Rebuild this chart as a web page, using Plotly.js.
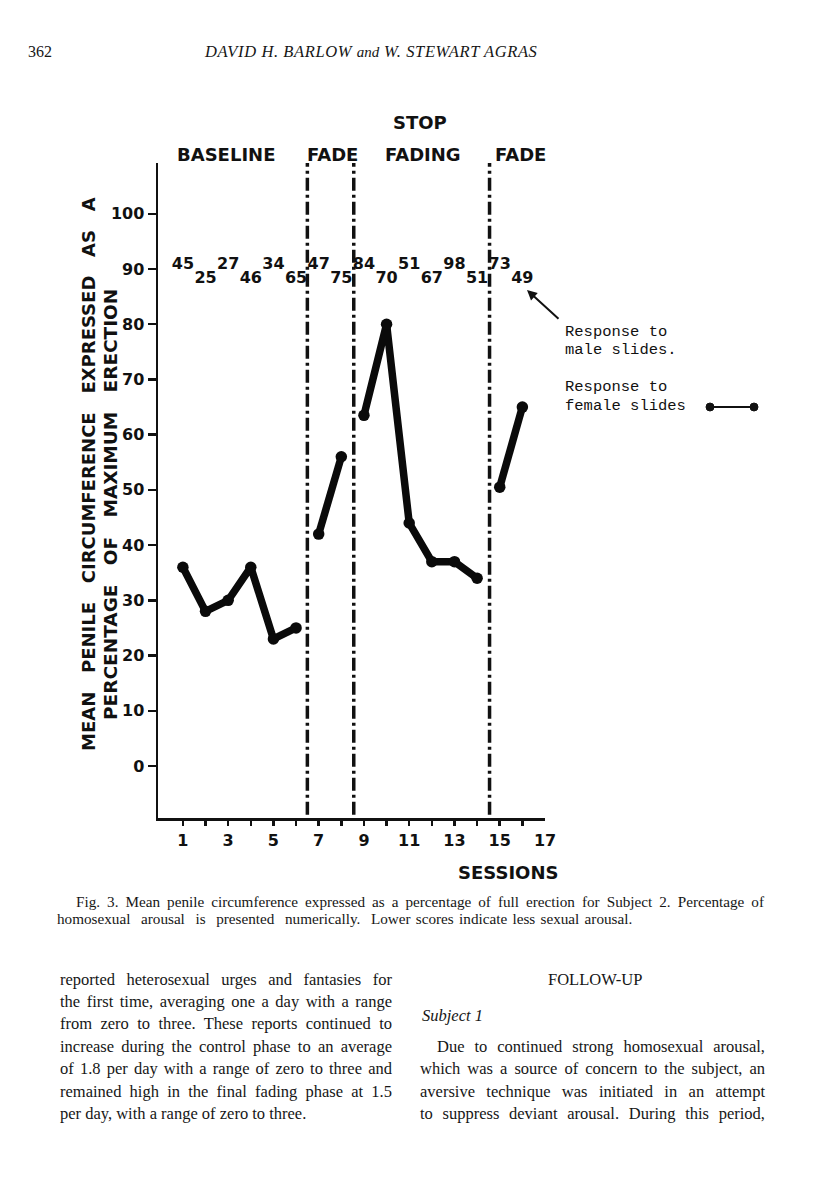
<!DOCTYPE html>
<html><head><meta charset="utf-8">
<script src="https://cdn.plot.ly/plotly-3.0.1.min.js"></script>
<style>
body{margin:0;background:#fff;}
#wrap{position:relative;width:816px;height:1195px;overflow:hidden;background:#fff;}
#chart{position:absolute;left:0;top:0;width:816px;height:1195px;}
.t{position:absolute;font-family:"Liberation Serif","DejaVu Serif",serif;color:#161616;white-space:nowrap;line-height:20px;}
.j{position:absolute;font-family:"Liberation Serif","DejaVu Serif",serif;color:#161616;text-align:justify;text-align-last:justify;white-space:normal;line-height:20px;height:20px;overflow:visible;}
.b{font-size:16.5px;}
.c{font-size:15.2px;}
</style></head><body>
<div id="wrap">
<div id="chart"></div>
<div class="t" style="left:28px;top:42px;font-size:16px;">362</div>
<div class="t" style="left:205px;top:42px;font-size:16.5px;font-style:italic;letter-spacing:0.6px;">DAVID H. BARLOW <span style="font-size:15px;letter-spacing:0">and</span> W. STEWART AGRAS</div>

<div class="j c" style="left:76px;top:892px;width:688px;">Fig. 3. Mean penile circumference expressed as a percentage of full erection for Subject 2. Percentage of</div>
<div class="t c" style="left:57px;top:909px;word-spacing:1.5px;">homosexual&nbsp; arousal&nbsp; is&nbsp; presented&nbsp; numerically.&nbsp; Lower scores indicate less sexual arousal.</div>

<div class="j b" style="left:60px;top:970px;width:332px;">reported heterosexual urges and fantasies for</div>
<div class="j b" style="left:60px;top:992px;width:332px;">the first time, averaging one a day with a range</div>
<div class="j b" style="left:60px;top:1014px;width:332px;">from zero to three. These reports continued to</div>
<div class="j b" style="left:60px;top:1037px;width:332px;">increase during the control phase to an average</div>
<div class="j b" style="left:60px;top:1059px;width:332px;">of 1.8 per day with a range of zero to three and</div>
<div class="j b" style="left:60px;top:1082px;width:332px;">remained high in the final fading phase at 1.5</div>
<div class="t b" style="left:60px;top:1104px;">per day, with a range of zero to three.</div>

<div class="t b" style="left:548px;top:970px;">FOLLOW-UP</div>
<div class="t b" style="left:422px;top:1006px;font-style:italic;">Subject 1</div>
<div class="j b" style="left:437px;top:1037px;width:328px;">Due to continued strong homosexual arousal,</div>
<div class="j b" style="left:420px;top:1059px;width:345px;">which was a source of concern to the subject, an</div>
<div class="j b" style="left:420px;top:1082px;width:345px;">aversive technique was initiated in an attempt</div>
<div class="j b" style="left:420px;top:1104px;width:345px;">to suppress deviant arousal. During this period,</div>
</div>
<script>
// ---- data ----
const sessions = [1,2,3,4,5,6,7,8,9,10,11,12,13,14,15,16];
const femaleResponse = [36,28,30,36,23,25,42,56,63.5,80,44,37,37,34,50.5,65];
const maleResponse = [45,25,27,46,34,65,47,75,84,70,51,67,98,51,73,49];
const sessionPhase = [0,0,0,0,0,0,1,1,2,2,2,2,2,2,3,3];
const phaseNames = ['BASELINE','FADE','FADING','FADE'];
const phaseBoundaries = [6.5, 8.55, 14.55];
const xTickVals = [1,3,5,7,9,11,13,15,17];
const xTickText = ['1','3','5','7','9','11','13','15','17'];
const xMinorTicks = [1,2,3,4,5,6,7,8,9,10,11,12,13,14,15,16];
const yTickVals = [0,10,20,30,40,50,60,70,80,90,100];
const yTickText = ['0','10','20','30','40','50','60','70','80','90','100'];

const BOLD = {family:'"DejaVu Sans", Verdana, sans-serif', weight:'bold', color:'#111'};
const f = (size) => Object.assign({}, BOLD, {size});

// female slide response: one line per phase
const traces = [];
[0,1,2,3].forEach(p => {
  const xs = [], ys = [];
  sessions.forEach((s,i) => { if (sessionPhase[i] === p) { xs.push(s); ys.push(femaleResponse[i]); } });
  traces.push({x: xs, y: ys, type: 'scatter', mode: 'lines+markers',
    line: {color: '#0a0a0a', width: 7.5}, marker: {color: '#0a0a0a', size: 11.5},
    hoverinfo: 'skip', showlegend: false, xaxis: 'x', yaxis: 'y'});
});
// male slide response: numbers printed alternately high / low
traces.push({x: sessions, y: maleResponse.map((v,i) => i % 2 === 0 ? 90.8 : 88.2),
  text: maleResponse.map(String), type: 'scatter', mode: 'text',
  textfont: f(16), textposition: 'middle center', hoverinfo: 'skip', showlegend: false,
  xaxis: 'x', yaxis: 'y'});
// invisible trace to activate the tick-mark axis
traces.push({x: [1], y: [-100], type: 'scatter', mode: 'markers', marker: {opacity: 0},
  hoverinfo: 'skip', showlegend: false, xaxis: 'x2', yaxis: 'y'});

// plot area: x 158..545 px, y 163..818 px
const L = 158, R = 545, T = 163, B = 818;
const px = v => (v - L) / (R - L);
const py = v => (B - v) / (B - T);

const shapes = phaseBoundaries.map(xb => ({type: 'line', xref: 'x', yref: 'paper',
  x0: xb, x1: xb, y0: 0.005, y1: 1, line: {color: '#111', width: 3.5, dash: '13px,4px,3px,4px'}}));
// legend sample for female slides
shapes.push({type: 'line', xref: 'paper', yref: 'paper', x0: px(710), x1: px(754), y0: py(407), y1: py(407),
  line: {color: '#111', width: 2}});
[710, 754].forEach(cx => shapes.push({type: 'circle', xref: 'paper', yref: 'paper',
  xsizemode: 'pixel', ysizemode: 'pixel', xanchor: px(cx), yanchor: py(407),
  x0: -4, x1: 4, y0: -4, y1: 4, fillcolor: '#111', line: {color: '#111', width: 1}}));

const annotations = [];
const phaseLabelX = [226, 332, 423, 520];
phaseNames.forEach((name, i) => annotations.push({text: name, xref: 'paper', yref: 'paper',
  x: px(phaseLabelX[i]), y: py(155), showarrow: false, font: f(18), xanchor: 'center', yanchor: 'middle'}));
annotations.push({text: 'STOP', xref: 'paper', yref: 'paper', x: px(420), y: py(122),
  showarrow: false, font: f(18), xanchor: 'center', yanchor: 'middle'});
annotations.push({text: 'SESSIONS', xref: 'paper', yref: 'paper', x: px(508), y: py(872),
  showarrow: false, font: f(18), xanchor: 'center', yanchor: 'middle'});
const gap = '\u00a0\u00a0\u00a0';
annotations.push({text: ['MEAN','PENILE','CIRCUMFERENCE','EXPRESSED','AS','A'].join(gap),
  xref: 'paper', yref: 'paper', x: px(88), y: py(474), textangle: -90, showarrow: false,
  font: f(18), xanchor: 'center', yanchor: 'middle'});
annotations.push({text: ['PERCENTAGE','OF','MAXIMUM','ERECTION'].join(gap),
  xref: 'paper', yref: 'paper', x: px(110), y: py(505), textangle: -90, showarrow: false,
  font: f(18.5), xanchor: 'center', yanchor: 'middle'});
const mono = {family: '"Liberation Mono", "Courier New", monospace', size: 15.5, color: '#111'};
[['Response to', 332], ['male slides.', 350], ['Response to', 387], ['female slides', 406]].forEach(([t, y]) =>
  annotations.push({text: t, xref: 'paper', yref: 'paper', x: px(563), y: py(y), showarrow: false,
    font: mono, xanchor: 'left', yanchor: 'middle'}));
annotations.push({text: '', xref: 'paper', yref: 'paper', x: px(527), y: py(290), ax: 33, ay: 30,
  showarrow: true, arrowhead: 2, arrowsize: 1, arrowwidth: 2, arrowcolor: '#111'});

const layout = {
  width: 816, height: 1195, paper_bgcolor: 'rgba(0,0,0,0)', plot_bgcolor: 'rgba(0,0,0,0)',
  margin: {l: L, r: 816 - R, t: T, b: 1195 - B, pad: 0},
  showlegend: false,
  xaxis: {range: [-0.1, 17], tickvals: xTickVals, ticktext: xTickText, ticks: 'outside',
    ticklen: 6, tickcolor: 'rgba(0,0,0,0)', tickfont: f(16), showgrid: false, zeroline: false,
    showline: true, linecolor: '#111', linewidth: 2.5, fixedrange: true},
  xaxis2: {range: [-0.1, 17], overlaying: 'x', anchor: 'y', side: 'bottom', tickvals: xMinorTicks,
    ticks: 'outside', ticklen: 7, tickwidth: 2.5, tickcolor: '#111', showticklabels: false,
    showgrid: false, zeroline: false, showline: false},
  yaxis: {range: [-9.42, 109.2], tickvals: yTickVals, ticktext: yTickText, ticks: 'outside',
    ticklen: 8, tickwidth: 2.5, tickcolor: '#111', tickfont: f(16), showgrid: false, zeroline: false,
    showline: true, linecolor: '#111', linewidth: 2.5, fixedrange: true},
  shapes: shapes, annotations: annotations
};
Plotly.newPlot('chart', traces, layout, {staticPlot: true, displayModeBar: false});
</script>
</body></html>
